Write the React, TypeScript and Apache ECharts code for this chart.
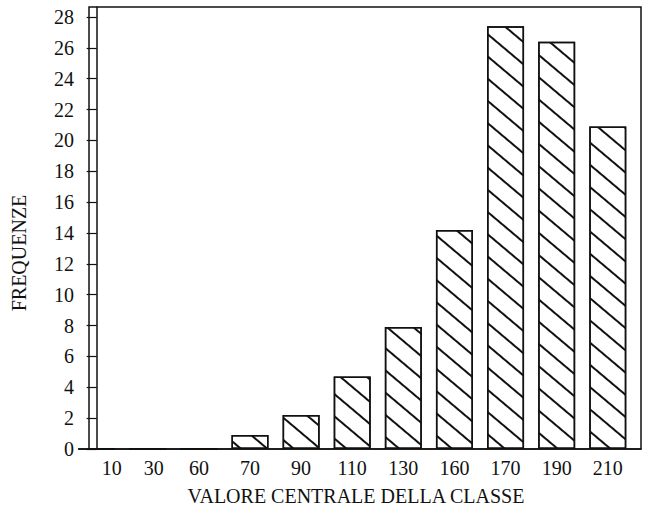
import React, { useEffect, useRef } from "react";
import * as echarts from "echarts";

const categories = ["10", "30", "60", "70", "90", "110", "130", "160", "170", "190", "210"];
const frequencies = [0, 0, 0, 0.9, 2.2, 4.7, 7.9, 14.2, 27.4, 26.4, 20.9];
const yTicks = [0, 2, 4, 6, 8, 10, 12, 14, 16, 18, 20, 22, 24, 26, 28];
const xTitle = "VALORE CENTRALE DELLA CLASSE";
const yTitle = "FREQUENZE";

export default function App() {
  const ref = useRef<HTMLDivElement>(null);
  useEffect(() => {
    if (!ref.current) return;
    const chart = echarts.init(ref.current, null, { renderer: "svg" });
    const font = "Liberation Serif";
    const idx = categories.map((_, i) => i);
    const labelStyle = { fontFamily: font, fontSize: 20, color: "#111" };
    chart.setOption({
      animation: false,
      backgroundColor: "#fff",
      textStyle: { fontFamily: font },
      grid: {
        left: 89,
        right: 11,
        top: 7,
        bottom: 68,
        show: true,
        borderColor: "#111",
        borderWidth: 1.5,
        backgroundColor: "transparent",
      },
      xAxis: {
        type: "value",
        min: -0.15,
        max: 10.65,
        name: xTitle,
        nameLocation: "middle",
        nameGap: 37,
        nameTextStyle: { ...labelStyle, padding: [0, 18, 0, 0] },
        axisLine: { show: true, lineStyle: { color: "#111", width: 1.5 } },
        axisTick: { show: false },
        splitLine: { show: false },
        axisLabel: {
          customValues: idx,
          formatter: (v: number) => {
            const i = Math.round(v);
            const t = categories[i] ?? "";
            if (i === 0) return "{s0|" + t + "}";
            if (i === 1) return "{s1|" + t + "}";
            return t;
          },
          ...labelStyle,
          margin: 9,
          rich: {
            s0: { ...labelStyle, padding: [0, 0, 0, 30] },
            s1: { ...labelStyle, padding: [0, 0, 0, 12] },
          },
        },
      },
      yAxis: {
        type: "value",
        min: 0,
        max: 28.65,
        name: yTitle,
        nameLocation: "middle",
        nameRotate: 90,
        nameGap: 60,
        nameTextStyle: { ...labelStyle, padding: [0, 50, 0, 0] },
        axisLine: { show: true, lineStyle: { color: "#111", width: 1.5 } },
        axisTick: {
          show: true,
          customValues: yTicks,
          length: 10,
          lineStyle: { color: "#111", width: 1.2 },
        },
        splitLine: { show: false },
        axisLabel: {
          customValues: yTicks,
          ...labelStyle,
          margin: 15,
        },
      },
      series: [
        {
          type: "bar",
          barWidth: 37,
          data: frequencies.map((v, i) => [i, v]),
          itemStyle: {
            color: "#fff",
            borderColor: "#111",
            borderWidth: 1.5,
            decal: {
              symbol: "rect",
              symbolSize: 1,
              dashArrayX: [1, 0],
              dashArrayY: [2, 15],
              rotation: 0.7,
              color: "#111",
            },
          },
        },
      ],
    });
    return () => chart.dispose();
  }, []);
  return (
    <div
      ref={ref}
      style={{ position: "fixed", left: 0, top: 0, width: 652, height: 517 }}
    />
  );
}
